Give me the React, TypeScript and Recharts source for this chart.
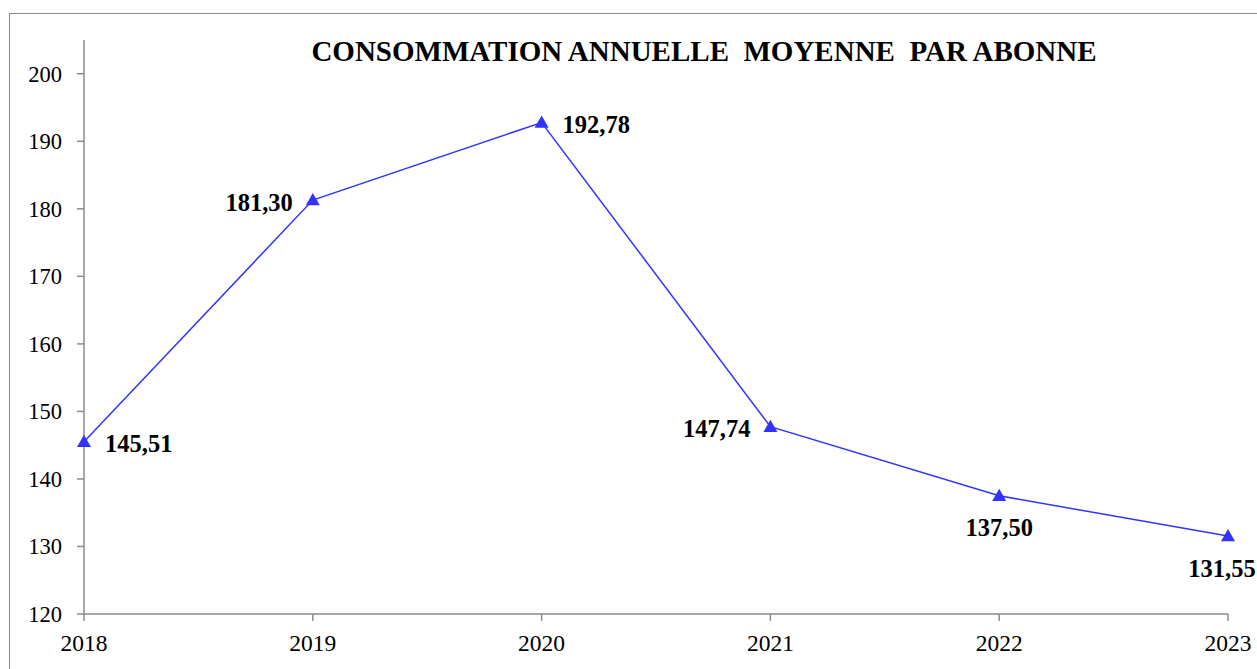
import React from "react";
import { LineChart, Line, XAxis, YAxis, LabelList } from "recharts";

const years = ["2018", "2019", "2020", "2021", "2022", "2023"];
const values = [145.51, 181.3, 192.78, 147.74, 137.5, 131.55];
const yTicks = [120, 130, 140, 150, 160, 170, 180, 190, 200];
const labelPlacement = ["right", "left", "right", "left", "below", "below"];
const title = "CONSOMMATION ANNUELLE  MOYENNE  PAR ABONNE";

const data = years.map((y, i) => ({ year: y, value: values[i] }));

const BLUE = "#3333FF";
const FONT = "'Liberation Serif', 'Times New Roman', serif";

const fmt = (v: number) => v.toFixed(2).replace(".", ",");

const Triangle = (props: any) => {
  const { cx, cy } = props;
  if (cx == null || cy == null) return null;
  const s = 7;
  return (
    <path
      d={`M${cx},${cy - s} L${cx + s},${cy + s * 0.75} L${cx - s},${cy + s * 0.75} Z`}
      fill={BLUE}
      stroke="none"
    />
  );
};

const DataLabel = (props: any) => {
  const { x, y, value, index } = props;
  const place = labelPlacement[index];
  let tx = x;
  let ty = y;
  let anchor: "start" | "end" | "middle" = "start";
  if (place === "right") {
    tx = x + 21;
    ty = y + 2;
    anchor = "start";
  } else if (place === "left") {
    tx = x - 20;
    ty = y + 2;
    anchor = "end";
  } else {
    tx = index === years.length - 1 ? x - 6 : x;
    ty = y + 32;
    anchor = "middle";
  }
  return (
    <text
      x={tx}
      y={ty}
      textAnchor={anchor}
      dominantBaseline="central"
      fontFamily={FONT}
      fontWeight="bold"
      fontSize={24.5}
      fill="#000"
    >
      {fmt(value)}
    </text>
  );
};

export default function App() {
  return (
    <div
      style={{
        position: "absolute",
        left: 0,
        top: 0,
        width: 1257,
        height: 669,
        overflow: "hidden",
        background: "#fff",
      }}
    >
      <div
        style={{
          position: "absolute",
          left: 9,
          top: 13,
          width: 1400,
          height: 800,
          border: "1.5px solid #8c8c8c",
          boxSizing: "border-box",
        }}
      />
      <div style={{ position: "absolute", left: 0, top: 0 }}>
        <LineChart
          width={1257}
          height={669}
          data={data}
          margin={{ top: 40, right: 29, bottom: 25, left: 24 }}
        >
          <text
            x={704}
            y={51}
            textAnchor="middle"
            dominantBaseline="central"
            fontFamily={FONT}
            fontWeight="bold"
            fontSize={29}
            fill="#000"
            style={{ whiteSpace: "pre" }}
          >
            {title}
          </text>
          <XAxis
            dataKey="year"
            height={30}
            padding={{ left: 0, right: 0 }}
            stroke="#8c8c8c"
            strokeWidth={1.5}
            tickSize={7}
            tickMargin={13}
            tick={{ fill: "#000", fontFamily: FONT, fontSize: 23.5 }}
            tickLine={{ stroke: "#8c8c8c" }}
            interval={0}
          />
          <YAxis
            width={60}
            domain={[120, 205]}
            ticks={yTicks}
            allowDataOverflow
            stroke="#8c8c8c"
            strokeWidth={1.5}
            tickSize={7}
            tickMargin={15}
            tick={{ fill: "#000", fontFamily: FONT, fontSize: 22.5 }}
            tickLine={{ stroke: "#8c8c8c" }}
          />
          <Line
            type="linear"
            dataKey="value"
            stroke={BLUE}
            strokeWidth={1.5}
            dot={<Triangle />}
            activeDot={false}
            isAnimationActive={false}
          >
            <LabelList dataKey="value" content={<DataLabel />} />
          </Line>
        </LineChart>
      </div>
    </div>
  );
}
